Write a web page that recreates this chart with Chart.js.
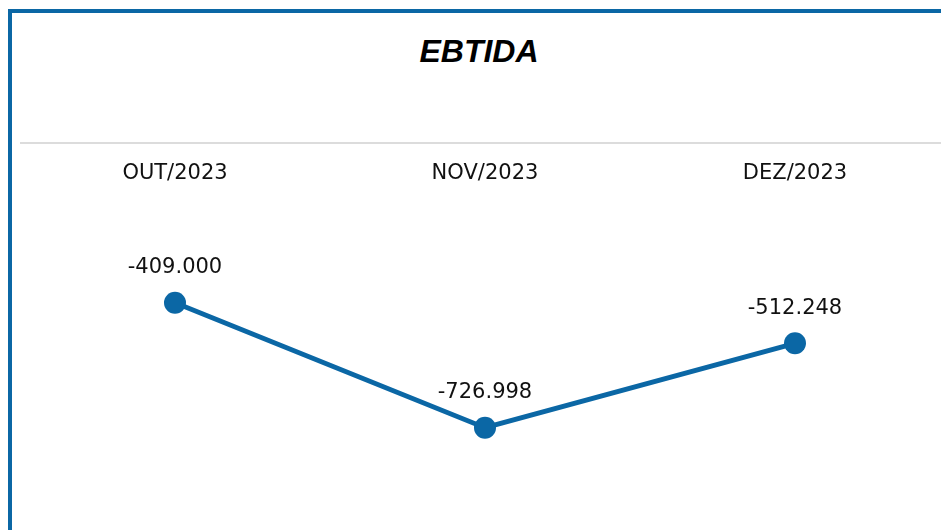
<!DOCTYPE html>
<html>
<head>
<meta charset="utf-8">
<script src="https://cdn.jsdelivr.net/npm/chart.js@4/dist/chart.umd.min.js"></script>
<style>
  body { margin: 0; width: 941px; height: 530px; overflow: hidden; background: #fff; position: relative; }
  .frame { position: absolute; left: 8px; top: 9px; right: -20px; bottom: -20px; border-left: 4px solid #0b67a5; border-top: 4px solid #0b67a5; }
  .title { position: absolute; left: 0; width: 958px; top: 33px; text-align: center; font: italic bold 32px "Liberation Sans", Arial, sans-serif; color: #000; }
  .rule { position: absolute; left: 20px; right: 0; top: 142px; height: 2px; background: #dcdcdc; }
  /* extra 11px each side: Chart.js pads the area for the point radius */
  .wrap { position: absolute; left: 9px; top: 150px; width: 952px; height: 396px; }
</style>
</head>
<body>
<div class="frame"></div>
<div class="title">EBTIDA</div>
<div class="rule"></div>
<div class="wrap"><canvas id="chart"></canvas></div>
<script>
const months = ['OUT/2023', 'NOV/2023', 'DEZ/2023'];
const ebtida = [-409000, -726998, -512248];
const valueLabels = ['-409.000', '-726.998', '-512.248'];

const blue = '#0b67a5';

// draws the value above each point
const pointLabels = {
  id: 'pointLabels',
  afterDatasetsDraw(chart) {
    const ctx = chart.ctx;
    const meta = chart.getDatasetMeta(0);
    ctx.save();
    ctx.font = '21px "DejaVu Sans", sans-serif';
    ctx.fillStyle = '#111';
    ctx.textAlign = 'center';
    ctx.textBaseline = 'middle';
    meta.data.forEach((pt, i) => {
      ctx.fillText(valueLabels[i], pt.x, pt.y - 35);
    });
    ctx.restore();
  }
};

new Chart(document.getElementById('chart'), {
  type: 'line',
  data: {
    labels: months,
    datasets: [{
      data: ebtida,
      borderColor: blue,
      backgroundColor: blue,
      borderWidth: 5,
      pointRadius: 11,
      pointHoverRadius: 11,
      pointBackgroundColor: blue,
      pointBorderWidth: 0,
      tension: 0,
      clip: false
    }]
  },
  options: {
    responsive: true,
    maintainAspectRatio: false,
    animation: false,
    layout: { padding: 0 },
    plugins: {
      legend: { display: false },
      tooltip: { enabled: false }
    },
    scales: {
      x: {
        position: 'top',
        offset: true,
        grid: { display: false, drawTicks: false },
        border: { display: false },
        ticks: {
          color: '#111',
          font: { family: '"DejaVu Sans", sans-serif', size: 21 },
          padding: 15,
          maxRotation: 0
        },
        afterFit(scale) { scale.height = 51; }
      },
      y: {
        display: false,
        min: -1000000,
        max: -150000
      }
    }
  },
  plugins: [pointLabels]
});
</script>
</body>
</html>
